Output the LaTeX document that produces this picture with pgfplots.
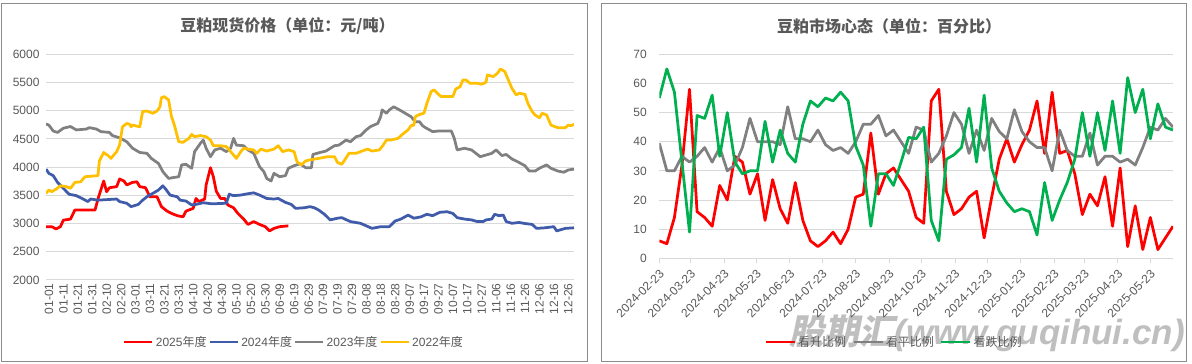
\documentclass[border=0pt]{standalone}
\usepackage{pgfplots}
\pgfplotsset{compat=1.18}
\usepackage{fontspec}
\setmainfont{Liberation Sans}
\newfontfamily\cjk{Noto Sans CJK SC}
\newfontfamily\cjkwm{Noto Sans CJK SC}[FakeSlant=0.2]
\definecolor{tgray}{HTML}{595959}
\definecolor{ggray}{HTML}{D9D9D9}
\definecolor{bgray}{HTML}{8C8C8C}
\definecolor{c25}{HTML}{FF0000}
\definecolor{c24}{HTML}{3F5BA9}
\definecolor{c23}{HTML}{808080}
\definecolor{c22}{HTML}{FFC000}
\definecolor{cgreen}{HTML}{00B050}

\pgfplotstableread{
d v
0 2945
4 2945
7 2905
10 2945
12 3060
17 3080
20 3240
34 3240
36 3435
40 3755
42 3565
44 3635
49 3655
51 3790
54 3755
56 3685
60 3730
63 3740
65 3655
69 3635
72 3475
77 3475
80 3300
84 3220
87 3180
91 3140
95 3120
97 3220
102 3270
104 3445
106 3390
110 3435
111 3685
114 3990
116 3830
118 3575
121 3445
124 3445
126 3330
130 3280
133 3180
137 3080
140 2985
144 3035
148 2985
152 2945
155 2870
158 2915
162 2945
168 2960
}\tA

\pgfplotstableread{
d v
0 3965
2 3890
5 3850
8 3730
12 3625
16 3520
21 3495
25 3445
29 3390
31 3435
36 3415
49 3435
51 3390
56 3360
59 3300
64 3340
67 3415
70 3475
74 3535
78 3595
81 3670
83 3610
86 3505
91 3475
93 3415
97 3400
101 3330
104 3340
109 3370
115 3350
125 3360
127 3520
130 3495
135 3505
139 3525
144 3545
148 3505
153 3445
158 3435
161 3445
166 3375
170 3340
173 3270
179 3280
183 3300
186 3280
189 3240
193 3165
197 3065
202 3095
205 3105
211 3035
218 3005
222 2960
226 2915
232 2945
238 2945
242 3045
246 3080
251 3150
255 3095
260 3120
264 3165
268 3140
273 3200
278 3210
282 3180
285 3105
290 3080
295 3065
299 3035
303 3035
305 3065
309 3080
311 3165
314 3140
317 3150
319 3035
323 3005
328 3020
331 3005
337 2985
340 2915
346 2925
352 2945
354 2870
360 2915
366 2925
}\tB

\pgfplotstableread{
d v
0 4765
2 4745
5 4640
8 4615
12 4690
17 4720
21 4660
28 4675
30 4700
35 4675
38 4630
44 4615
46 4560
51 4520
56 4450
60 4335
65 4260
70 4245
73 4155
78 4065
81 3920
85 3800
88 3815
92 3830
94 4040
97 4050
101 3980
103 4275
107 4420
109 4480
111 4335
114 4185
117 4305
121 4335
125 4275
128 4335
130 4510
132 4390
137 4380
140 4305
144 4245
148 4010
151 3920
153 3800
156 3755
158 3890
162 3830
166 3850
168 3980
172 4025
176 4060
180 3990
184 3990
185 4225
190 4260
194 4285
200 4380
203 4390
208 4480
211 4450
215 4540
218 4560
222 4660
225 4720
230 4775
232 4895
233 5015
236 4955
238 5015
241 5070
245 5015
249 4955
253 4895
256 4805
259 4805
261 4735
263 4700
268 4630
272 4640
281 4640
283 4510
285 4305
290 4335
295 4305
298 4245
301 4185
305 4215
309 4245
312 4305
316 4205
319 4225
323 4145
327 4095
332 4025
335 3930
339 3930
342 3980
347 4040
350 3980
355 3930
359 3910
362 3950
366 3965
}\tC

\pgfplotstableread{
d v
0 3535
2 3595
4 3565
7 3610
10 3670
14 3655
17 3625
20 3730
24 3740
27 3830
36 3850
37 4110
40 4260
43 4205
45 4155
49 4275
51 4390
53 4715
56 4775
58 4760
59 4715
60 4745
65 4715
67 4985
70 4995
74 4955
77 4995
79 5070
80 5230
82 5250
85 5190
87 4895
89 4745
92 4450
95 4440
99 4510
101 4580
103 4540
107 4560
111 4540
114 4480
116 4380
121 4380
125 4365
129 4245
132 4155
135 4275
137 4335
140 4320
144 4305
146 4245
149 4320
153 4285
158 4320
161 4380
164 4275
168 4305
172 4275
174 4095
177 4040
180 4110
183 4130
189 4155
195 4185
200 4185
202 4085
205 4050
207 4125
210 4245
215 4245
219 4285
223 4320
226 4285
231 4305
233 4365
236 4480
239 4480
244 4510
247 4580
251 4660
253 4735
255 4745
256 4895
259 4935
262 4955
264 5130
267 5340
269 5370
272 5290
274 5250
282 5250
284 5385
287 5425
289 5545
291 5545
294 5485
299 5485
302 5470
305 5505
306 5635
310 5605
313 5665
315 5740
318 5695
320 5575
323 5395
326 5280
328 5310
332 5290
334 5130
337 4985
339 4925
342 4875
344 4955
347 4925
350 4745
353 4715
355 4700
360 4700
362 4745
364 4735
366 4760
}\tD

\pgfplotstableread{
d up flat down
0 6 39.5 55
7 5 30 65
14 14 30 57
21 32 35 33
28 58 33 9
35 16 35 49
42 14 38 48
49 11 33 56
56 25 38 35
63 20 30 50
70 35 32 33
77 33 38 29
84 22 48 30
91 29 40 30
98 13 40 47
105 27 40 33
112 17 39 44
119 12 52 36
126 26 41 33
133 13 41 46
140 6 40 54
147 4 44 52
154 6 39 55
161 9 37 54
168 5 38 57
175 10 36 54
182 21 40 38.5
189 22 46 32
196 43 46 11
203 22 49 29
210 29 42 29
217 31 44 25
224 27 40 33
231 23 36 41.5
238 14 45 41
245 12 44 45
252 54 33 13
259 58 36 6
266 23 42 34
273 15 50 35.5
280 17 46 38
287 21 36 51.5
294 23 44 33
301 7 37 56
308 21 48 31
315 34 43.5 23
322 41 41 19
329 33 51 16
336 39 43.5 17
343 44 40 16
350 54 38 8
357 36 38 26
364 57 30 13
371 36 44 20
378 37 37 26
385 29 35 34
392 15 35 50
399 22 43 35
406 18 32 50
413 28 35 37
420 11 35 54
427 31 33 36
434 4 34 62
441 18 32 50
448 3 38 58
455 14 45 41
462 3 44 53
469 7 48 45
476 11 45 44
}\tR

\begin{document}
\begin{tikzpicture}[x=1pt,y=1pt]
\fill[white] (0,0) rectangle (1192,364);
\draw[bgray, line width=1pt] (1.5,2.5) rectangle (587.7,360.7);
\draw[bgray, line width=1pt] (601,2) rectangle (1186.7,360.7);
\node[font=\cjk\bfseries\fontsize{16}{18}\selectfont, text=tgray] at (287.5,338) {豆粕现货价格（单位：元/吨）};
\node[font=\cjk\bfseries\fontsize{16}{18}\selectfont, text=tgray] at (889,338) {豆粕市场心态（单位：百分比）};
\node[anchor=west, text=black!25, font=\fontsize{35}{37}\selectfont\bfseries] at (786,31) {{\cjkwm 股期汇}{\itshape (www.guqihui.cn)}};

\begin{axis}[
  at={(46pt,84pt)}, anchor=south west,
  scale only axis, width=528pt, height=225.7pt,
  xmin=0, xmax=366, ymin=2000, ymax=6000,
  axis line style={draw=none},
  ymajorgrids, grid style={draw=ggray, line width=1pt},
  major tick length=0pt,
  xtick={0,10,...,360},
  xticklabels={01-01,01-11,01-21,01-31,02-10,02-20,03-01,03-11,03-21,03-31,04-10,04-20,04-30,05-10,05-20,05-30,06-09,06-19,06-29,07-09,07-19,07-29,08-08,08-18,08-28,09-07,09-17,09-27,10-07,10-17,10-27,11-06,11-16,11-26,12-06,12-16,12-26},
  ytick={2000,2500,3000,3500,4000,4500,5000,5500,6000},
  yticklabels={2000,2500,3000,3500,4000,4500,5000,5500,6000},
  tick label style={font=\fontsize{12}{14}\selectfont, text=tgray},
  x tick label style={rotate=90, anchor=east, yshift=-3pt},
  y tick label style={xshift=-3pt},
  legend columns=-1,
  legend style={at={(axis description cs:0.4697,-0.2747)}, anchor=center, draw=none, fill=none,
    font=\fontsize{12}{14}\selectfont, text=tgray,
    nodes={inner sep=2pt},
    /tikz/every even column/.append style={column sep=0pt}},
  legend image code/.code={\draw[#1] (0pt,0pt) -- (28pt,0pt);},
  every axis plot/.append style={line width=2.75pt, line join=round},
]
\addplot[c25, mark=none] table[x=d, y=v] {\tA};
\addlegendentry{2025{\cjk 年度}}
\addplot[c24, mark=none] table[x=d, y=v] {\tB};
\addlegendentry{2024{\cjk 年度}}
\addplot[c23, mark=none] table[x=d, y=v] {\tC};
\addlegendentry{2023{\cjk 年度}}
\addplot[c22, mark=none] table[x=d, y=v] {\tD};
\addlegendentry{2022{\cjk 年度}}
\end{axis}

\begin{axis}[
  at={(659.3pt,105.7pt)}, anchor=south west,
  scale only axis, width=513.7pt, height=204pt,
  xmin=0, xmax=476, ymin=0, ymax=70,
  axis line style={draw=none},
  ymajorgrids, grid style={draw=ggray, line width=1pt},
  xtick={0,29,60,90,121,151,182,213,243,274,304,335,366,394,425,455},
  xticklabels={2024-02-23,2024-03-23,2024-04-23,2024-05-23,2024-06-23,2024-07-23,2024-08-23,2024-09-23,2024-10-23,2024-11-23,2024-12-23,2025-01-23,2025-02-23,2025-03-23,2025-04-23,2025-05-23},
  ytick={0,10,...,70},
  yticklabels={0,10,20,30,40,50,60,70},
  xtick pos=left, tick align=outside,
  xtick style={draw=ggray, line width=1pt}, ytick style={draw=none},
  major tick length=5pt,
  tick label style={font=\fontsize{12}{14}\selectfont, text=tgray},
  x tick label style={xshift=5pt, yshift=-6pt, rotate=45, anchor=east},
  y tick label style={xshift=-4pt},
  legend columns=-1,
  legend style={at={(axis description cs:0.4569,-0.410)}, anchor=center, draw=none, fill=none,
    font=\cjk\fontsize{12}{14}\selectfont, text=tgray,
    nodes={inner sep=2pt},
    /tikz/every even column/.append style={column sep=4pt}},
  legend image code/.code={\draw[#1] (0pt,0pt) -- (29pt,0pt);},
  every axis plot/.append style={line width=2.75pt, line join=round},
]
\addplot[c25, mark=none] table[x=d, y=up] {\tR};
\addlegendentry{看升比例}
\addplot[c23, mark=none] table[x=d, y=flat] {\tR};
\addlegendentry{看平比例}
\addplot[cgreen, mark=none] table[x=d, y=down] {\tR};
\addlegendentry{看跌比例}
\end{axis}
\pgfresetboundingbox
\path[use as bounding box] (0,0) rectangle (1192,364);
\end{tikzpicture}
\end{document}
